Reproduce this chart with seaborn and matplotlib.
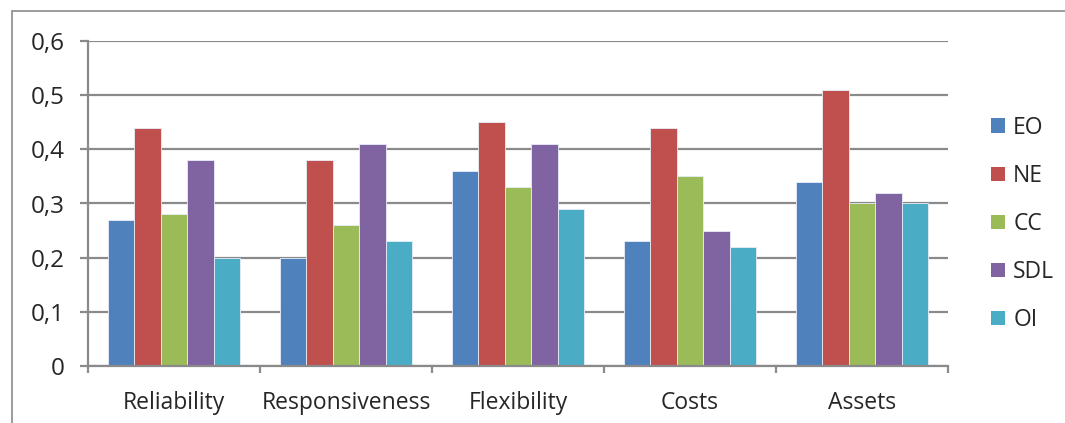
import pandas as pd
import matplotlib.pyplot as plt
import matplotlib.patches as mpatches
import seaborn as sns
from matplotlib.ticker import FuncFormatter

categories = ['Reliability', 'Responsiveness', 'Flexibility', 'Costs', 'Assets']
series = ['EO', 'NE', 'CC', 'SDL', 'OI']
eo = [0.27, 0.20, 0.36, 0.23, 0.34]
ne = [0.44, 0.38, 0.45, 0.44, 0.51]
cc = [0.28, 0.26, 0.33, 0.35, 0.30]
sdl = [0.38, 0.41, 0.41, 0.25, 0.32]
oi = [0.20, 0.23, 0.29, 0.22, 0.30]
colors = ['#4F81BD', '#C0504D', '#9BBB59', '#8064A2', '#4BACC6']

rows = []
for name, vals in zip(series, [eo, ne, cc, sdl, oi]):
    for c, v in zip(categories, vals):
        rows.append({'Category': c, 'Series': name, 'Value': v})
df = pd.DataFrame(rows)

sns.set_style('white')
plt.rcParams['font.family'] = ['Open Sans', 'DejaVu Sans']

fig = plt.figure(figsize=(10.65, 4.23), dpi=100)
ax = fig.add_axes([88 / 1065, 1 - 366 / 423, (948 - 88) / 1065, (366 - 41) / 423])

sns.barplot(data=df, x='Category', y='Value', hue='Series', order=categories,
            hue_order=series, palette=colors, saturation=1, width=0.767, ax=ax,
            edgecolor='#e8eef7', linewidth=0.6, legend=False)

ax.set_xlim(-0.5, 4.5)
ax.set_ylim(0, 0.6)
ax.set_yticks([0, 0.1, 0.2, 0.3, 0.4, 0.5, 0.6])
ax.yaxis.set_major_formatter(FuncFormatter(lambda v, p: '0' if v == 0 else f'{v:.1f}'.replace('.', ',')))
ax.grid(axis='y', color='#8a8a8a', linewidth=1.6)
ax.set_axisbelow(True)
for s in ['top', 'right']:
    ax.spines[s].set_visible(False)
for s in ['left', 'bottom']:
    ax.spines[s].set_color('#8a8a8a')
    ax.spines[s].set_linewidth(1.6)
ax.set_xlabel('')
ax.set_ylabel('')

ax.tick_params(axis='y', length=6, width=1.6, color='#8a8a8a', pad=11, labelsize=17.5, left=True)
ax.tick_params(axis='x', which='major', length=0, pad=18, labelsize=16.5)
ax.set_xticks([-0.5, 0.5, 1.5, 2.5, 3.5, 4.5], minor=True)
ax.tick_params(axis='x', which='minor', length=5, width=1.6, color='#8a8a8a', bottom=True)

handles = [mpatches.Patch(facecolor=c, edgecolor='none', label=s) for c, s in zip(colors, series)]
fig.legend(handles=handles, loc='center left', bbox_to_anchor=(982 / 1065, 1 - 224 / 423),
           frameon=False, fontsize=16.5, handlelength=0.61, handleheight=0.61,
           handletextpad=0.35, labelspacing=1.05, borderaxespad=0)

# outer chart frame
fig.patches.append(mpatches.Rectangle((12 / 1065, -0.05), 1.1, 1 - 11 / 423 + 0.05,
                                      transform=fig.transFigure, fill=False,
                                      edgecolor='#8a8a8a', linewidth=1.2))

fig.savefig('out.png', dpi=100)
